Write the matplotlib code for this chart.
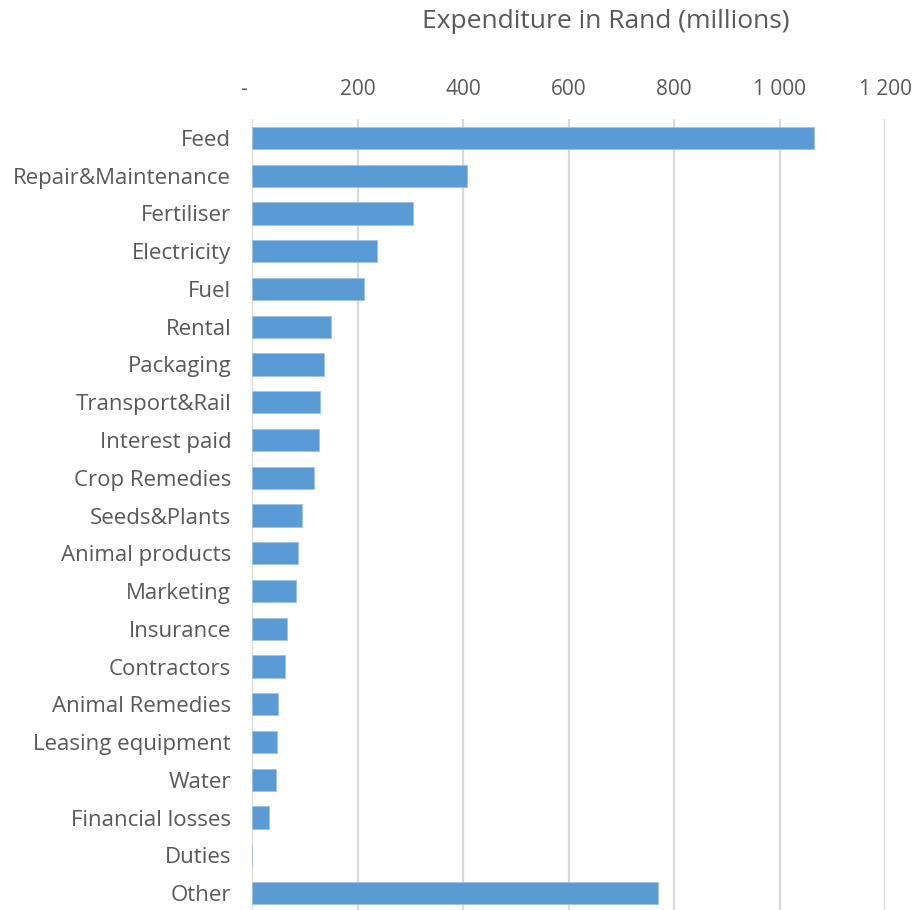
import matplotlib.pyplot as plt
from matplotlib.ticker import FuncFormatter

plt.rcParams['font.family'] = ['Open Sans', 'DejaVu Sans']

categories = ['Feed', 'Repair&Maintenance', 'Fertiliser', 'Electricity', 'Fuel',
              'Rental', 'Packaging', 'Transport&Rail', 'Interest paid',
              'Crop Remedies', 'Seeds&Plants', 'Animal products', 'Marketing',
              'Insurance', 'Contractors', 'Animal Remedies', 'Leasing equipment',
              'Water', 'Financial losses', 'Duties', 'Other']
values = [1065, 407, 306, 237, 213, 149, 136, 129, 127, 117, 95, 87, 84,
          66, 62, 50, 47, 45, 32, 0, 770]
ticks = [0, 200, 400, 600, 800, 1000, 1200]

grey = '#595959'
bar_color = '#5B9BD5'


def rand_fmt(v, pos):
    if v == 0:
        return '-   '
    return f'{int(v):,}'.replace(',', ' ')


fig = plt.figure(figsize=(9.17, 9.10), dpi=100)
ax = fig.add_axes([252 / 917, -2 / 910, (885 - 252) / 917, (912 - 119) / 910])

y = list(range(len(categories)))
ax.barh(y, values, height=0.59, color=bar_color, edgecolor='#9DC3E6', linewidth=0.6, zorder=3)
ax.set_ylim(len(categories) - 0.5, -0.5)
ax.set_xlim(0, 1200)

ax.set_xticks(ticks)
ax.xaxis.set_major_formatter(FuncFormatter(rand_fmt))
ax.xaxis.tick_top()
ax.tick_params(axis='x', length=0, pad=14, labelsize=15, labelcolor=grey)
ax.set_yticks(y)
ax.set_yticklabels(categories)
ax.tick_params(axis='y', length=0, pad=15, labelsize=16, labelcolor=grey)

ax.grid(axis='x', color='#D9D9D9', linewidth=1.6, zorder=0)
for s in ax.spines.values():
    s.set_visible(False)

fig.text(606 / 917, 1 - 22 / 910, 'Expenditure in Rand (millions)', ha='center', va='center',
         fontsize=19, color=grey)

fig.savefig('out.png', dpi=100)
